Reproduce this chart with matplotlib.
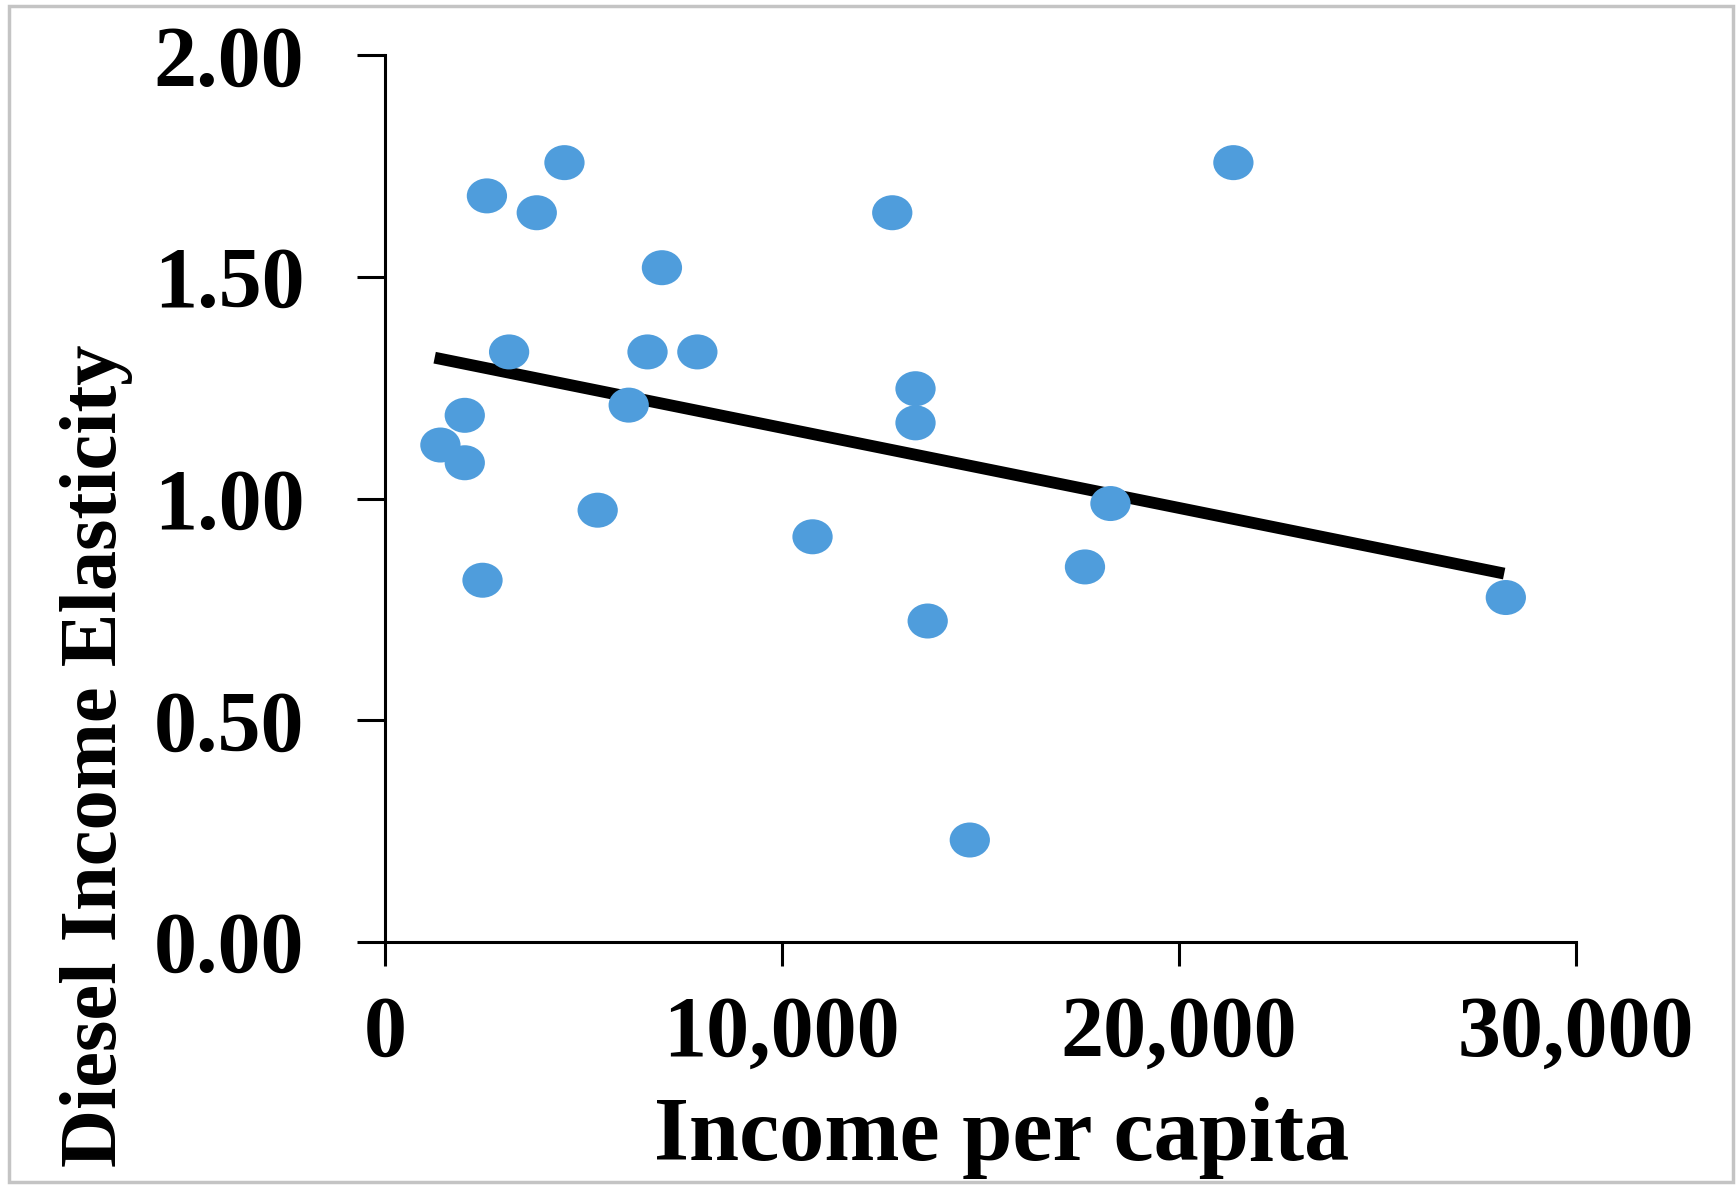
import numpy as np
import matplotlib.pyplot as plt
from matplotlib.path import Path
from matplotlib.patches import Rectangle
from matplotlib.ticker import FuncFormatter

# ---------- data ----------
income = [1395, 2009, 2009, 2567, 2456, 3126, 3823, 4521, 5358, 6140, 6614,
          6977, 7870, 10772, 12781, 13367, 13367, 13674, 14735, 17637, 18279,
          21377, 28242]
elasticity = [1.121, 1.188, 1.081, 1.683, 0.816, 1.331, 1.645, 1.758, 0.974,
              1.211, 1.331, 1.521, 1.331, 0.914, 1.645, 1.248, 1.171, 0.724,
              0.230, 0.846, 0.989, 1.758, 0.777]

trend_x = [1250, 28200]
trend_y = [1.318, 0.831]

x_ticks = [0, 10000, 20000, 30000]
y_ticks = [0.0, 0.5, 1.0, 1.5, 2.0]

FONT = "Liberation Serif"

# slightly wide ellipse marker (the source picture is stretched a bit)
circ = Path.unit_circle()
ellipse = Path(circ.vertices * np.array([1.15, 1.0]), circ.codes)

fig = plt.figure(figsize=(17.36, 11.88), dpi=100)
ax = fig.add_axes([0.2218, 0.2071, 0.6858, 0.7463])

ax.plot(trend_x, trend_y, color="black", lw=8.5, solid_capstyle="butt", zorder=2)
ax.scatter(income, elasticity, s=29 ** 2, marker=ellipse, color="#4F9DDC",
           edgecolors="none", zorder=3)

ax.set_xlim(0, 30000)
ax.set_ylim(0, 2.0)
ax.set_xticks(x_ticks)
ax.set_yticks(y_ticks)
ax.xaxis.set_major_formatter(FuncFormatter(lambda v, p: f"{v:,.0f}"))
ax.yaxis.set_major_formatter(FuncFormatter(lambda v, p: f"{v:.2f}"))

for s in ["top", "right"]:
    ax.spines[s].set_visible(False)
for s in ["left", "bottom"]:
    ax.spines[s].set_linewidth(2.2)

ax.tick_params(axis="x", direction="out", length=17, width=2.2, pad=22)
ax.tick_params(axis="y", direction="out", length=20, width=2.2, pad=38)
for lab in ax.get_xticklabels() + ax.get_yticklabels():
    lab.set_fontfamily(FONT)
    lab.set_fontweight("bold")
    lab.set_fontsize(62)

ax.set_xlabel("Income per capita", fontfamily=FONT, fontweight="bold",
              fontsize=65)
ax.xaxis.set_label_coords(0.518, -0.175)
ax.set_ylabel("Diesel Income Elasticity", fontfamily=FONT, fontweight="bold",
              fontsize=58)
ax.yaxis.set_label_coords(-0.212, 0.21)

# light grey frame around the whole picture
fig.patches.append(Rectangle((0.005, 0.005), 0.993, 0.99, transform=fig.transFigure,
                             fill=False, edgecolor="#C4C4C4", lw=2.5))

fig.savefig("out.png", dpi=100)
